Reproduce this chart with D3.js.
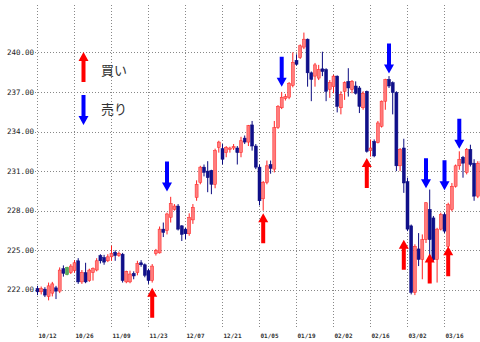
<!DOCTYPE html>
<html>
<head>
<meta charset="utf-8">
<script src="https://cdn.jsdelivr.net/npm/d3@7"></script>
<style>
  body { margin: 0; background: #fff; }
  svg { display: block; }
</style>
</head>
<body>
<div id="container"></div>
<script>
/* CONSTANTS AND GLOBALS */
const width = 480;
const height = 342;

/* DATA */
const dateLabels = ["10/12", "10/26", "11/09", "11/23", "12/07", "12/21", "01/05", "01/19", "02/02", "02/16", "03/02", "03/16"];
const yTicks = [222, 225, 228, 231, 234, 237, 240];

const opens = [
  222.1, 221.85, 222.05, 221.5, 221.75, 222.15, 221.9, 223.6, 223.15, 223.3,
  223.45, 224.2, 222.6, 223.3, 222.7, 223.3, 223.5, 224.6, 224.45, 224.2,
  224.5, 224.85, 224.6, 224.7, 222.6, 222.6, 223.25, 223.3, 224.05, 223.9,
  223.45, 222.7, 224.75, 224.8, 226.6, 226.5, 227.5, 228.1, 228.35, 226.85,
  226.6, 226.25, 227.3, 229.0, 230.15, 231.3, 231.0, 231.05, 230.0, 232.8,
  232.7, 232.4, 232.65, 232.75, 232.75, 232.4, 233.5, 233.2, 234.5, 232.9,
  231.3, 228.9, 230.15, 231.5, 231.15, 234.3, 235.8, 236.5, 236.6, 237.5,
  239.4, 239.6, 240.4, 241.0, 238.45, 238.2, 238.05, 238.75, 238.7, 237.2,
  237.4, 238.2, 235.8, 237.05, 237.8, 237.2, 237.45, 237.3, 235.8, 237.05,
  232.55, 233.25, 233.15, 234.4, 236.3, 237.95, 237.7, 236.95, 231.4, 232.75,
  230.2, 226.85, 221.8, 225.1, 224.3, 225.8, 228.1, 227.45, 224.3, 226.6,
  227.7, 225.3, 228.1, 229.85, 231.4, 232.05, 230.9, 232.65, 231.6, 229.1,
  231.6
];
const highs = [
  222.3, 222.25, 222.2, 222.55, 222.6, 222.3, 223.7, 223.85, 223.75, 223.95,
  224.25, 224.4, 223.5, 224.05, 223.6, 223.7, 224.4, 224.7, 224.65, 224.7,
  225.35, 225.0, 224.9, 224.8, 223.45, 223.45, 223.4, 224.2, 224.25, 224.0,
  223.6, 223.95, 225.1, 226.8, 227.1, 227.85, 229.05, 228.5, 228.5, 226.9,
  226.7, 227.8, 228.5, 230.3, 231.4, 231.5, 231.75, 231.1, 232.7, 233.3,
  233.05, 232.9, 232.85, 233.05, 232.9, 233.6, 233.7, 234.5, 234.8, 233.05,
  231.5, 230.25, 231.8, 231.8, 234.8, 236.0, 237.0, 236.85, 237.75, 240.0,
  239.85, 240.6, 241.5, 241.05, 238.55, 239.2, 239.05, 240.05, 238.8, 237.9,
  238.3, 238.25, 237.05, 237.8, 238.8, 237.9, 237.8, 237.45, 237.05, 237.1,
  233.4, 233.4, 234.8, 236.35, 238.0, 238.2, 237.8, 237.05, 232.75, 233.45,
  230.5, 226.95, 225.45, 226.3, 226.2, 228.65, 229.6, 227.6, 226.7, 227.85,
  227.85, 228.6, 230.1, 231.5, 232.5, 232.15, 232.75, 233.0, 231.9, 231.75,
  231.8
];
const lows = [
  221.6, 221.65, 221.45, 221.2, 221.5, 221.3, 221.75, 223.0, 223.1, 223.2,
  223.3, 222.45, 222.45, 222.5, 222.6, 222.7, 223.4, 224.0, 223.9, 224.1,
  224.2, 224.2, 224.5, 222.55, 222.5, 222.5, 222.8, 223.1, 223.75, 222.95,
  222.45, 222.55, 224.6, 224.75, 226.0, 226.2, 227.1, 228.0, 226.5, 225.7,
  225.85, 226.1, 227.0, 228.75, 230.0, 230.6, 229.4, 229.25, 229.7, 232.4,
  231.5, 232.05, 232.4, 232.6, 231.5, 232.05, 233.05, 232.9, 232.55, 231.15,
  228.4, 228.0, 230.0, 230.8, 230.9, 234.2, 235.7, 236.35, 236.45, 237.35,
  239.0, 239.5, 240.25, 237.4, 236.3, 237.4, 237.9, 238.2, 236.3, 236.55,
  236.9, 235.45, 235.3, 236.4, 236.65, 236.9, 236.8, 235.4, 235.65, 232.4,
  232.1, 232.05, 233.1, 234.3, 235.65, 237.3, 235.3, 231.0, 231.0, 229.35,
  226.45, 221.65, 221.6, 223.8, 222.8, 225.55, 224.3, 224.2, 222.55, 226.5,
  226.3, 225.2, 227.95, 229.75, 231.1, 230.5, 230.75, 231.35, 228.75, 228.95,
  231.5
];
const closes = [
  221.85, 222.1, 221.6, 222.3, 222.45, 221.9, 223.5, 223.25, 223.7, 223.8,
  224.05, 222.6, 223.3, 222.6, 223.5, 223.6, 224.2, 224.2, 224.1, 224.5,
  224.75, 224.6, 224.75, 222.7, 223.4, 223.2, 223.05, 224.0, 223.9, 223.1,
  222.7, 223.8, 225.0, 226.6, 226.35, 227.75, 228.55, 228.35, 226.6, 226.2,
  226.25, 227.5, 228.25, 230.0, 231.3, 230.9, 230.5, 230.0, 232.55, 233.2,
  231.9, 232.8, 232.75, 232.85, 232.4, 233.3, 233.2, 234.45, 232.9, 231.3,
  228.75, 230.15, 231.4, 231.2, 234.3, 235.9, 236.6, 236.65, 237.65, 239.25,
  239.1, 240.5, 241.0, 238.45, 237.95, 239.05, 238.7, 238.55, 237.05, 237.7,
  238.2, 235.9, 236.8, 237.7, 237.3, 237.8, 236.9, 235.9, 236.9, 232.5,
  232.75, 232.15, 234.65, 236.3, 237.95, 237.45, 236.95, 231.4, 232.65, 230.1,
  226.6, 221.8, 225.3, 224.3, 225.8, 228.6, 225.8, 224.3, 226.6, 227.7,
  226.45, 228.45, 229.85, 231.4, 231.9, 231.6, 232.65, 231.5, 229.1, 231.6,
  231.75
];
// candles drawn green (unchanged)
const flatIdx = [8];

// buy / sell signals: candle index and price at the arrow tip
const buyIdx = [31, 61, 89, 99, 106, 111];
const buyPrice = [222.15, 227.8, 232.0, 225.8, 224.75, 225.3];
const sellIdx = [35, 66, 95, 105, 110, 114];
const sellPrice = [229.45, 237.4, 238.4, 229.7, 229.55, 232.7];

const legendItems = ["買い", "売り"];

const candles = opens.map((o, i) => ({
  i, open: o, high: highs[i], low: lows[i], close: closes[i]
}));

const svg = d3.select("#container")
  .append("svg")
  .attr("width", width)
  .attr("height", height)
  .style("font-family", "'DejaVu Sans Mono', monospace");

/**********/
/* SCALES */
/**********/
const xScale = d3.scaleLinear()
  .domain([0, 120])
  .range([37.5, 37.5 + 3.7 * 120]);

const yScale = d3.scaleLinear()
  .domain([219.5, 243.5])
  .range([322.8, 6.2]);

/********/
/* GRID */
/********/
const gridIdx = dateLabels.map((d, k) => k * 10);

svg.append("g")
  .attr("class", "x-grid")
  .selectAll("line")
  .data(gridIdx)
  .join("line")
  .attr("x1", d => Math.round(xScale(d)) - 0.5)
  .attr("x2", d => Math.round(xScale(d)) - 0.5)
  .attr("y1", 5)
  .attr("y2", 328)
  .attr("stroke", "#888")
  .attr("stroke-dasharray", "1,2");

svg.append("g")
  .attr("class", "y-grid")
  .selectAll("line")
  .data(yTicks)
  .join("line")
  .attr("x1", 35)
  .attr("x2", width)
  .attr("y1", d => Math.round(yScale(d)) + 0.5)
  .attr("y2", d => Math.round(yScale(d)) + 0.5)
  .attr("stroke", "#888")
  .attr("stroke-dasharray", "1,2");

// y labels
svg.append("g")
  .selectAll("text")
  .data(yTicks)
  .join("text")
  .attr("x", 34)
  .attr("y", d => yScale(d))
  .attr("dy", "0.35em")
  .attr("text-anchor", "end")
  .style("font-size", "7.5px")
  .style("fill", "#222")
  .text(d => d.toFixed(2));

// x labels
svg.append("g")
  .selectAll("text")
  .data(dateLabels)
  .join("text")
  .attr("x", (d, k) => xScale(k * 10) + 1)
  .attr("y", 338)
  .style("font-size", "6px")
  .style("font-weight", "bold")
  .style("fill", "#333")
  .text(d => d);

/***********/
/* CANDLES */
/***********/
const colorOf = d => flatIdx.includes(d.i) ? "#3a9a3a"
  : (d.close >= d.open ? "#ff2020" : "#0a0a80");
const fillOf = d => flatIdx.includes(d.i) ? "#5aaa5a"
  : (d.close >= d.open ? "#ff7c7c" : "#10108a");

const plot = svg.append("g").attr("class", "candles");

const cg = plot.selectAll("g.candle")
  .data(candles)
  .join("g")
  .attr("class", "candle");

cg.append("line")
  .attr("x1", d => xScale(d.i))
  .attr("x2", d => xScale(d.i))
  .attr("y1", d => yScale(d.high))
  .attr("y2", d => yScale(d.low))
  .attr("stroke", colorOf)
  .attr("stroke-width", 1);

cg.append("rect")
  .attr("x", d => xScale(d.i) - 1.5)
  .attr("width", 3)
  .attr("y", d => yScale(Math.max(d.open, d.close)))
  .attr("height", d => Math.max(1, yScale(Math.min(d.open, d.close)) - yScale(Math.max(d.open, d.close))))
  .attr("fill", fillOf)
  .attr("stroke", colorOf)
  .attr("stroke-width", 0.5);

/**********/
/* ARROWS */
/**********/
// arrow path pointing up with the tip at (0,0)
const upArrow = "M0,0 L5,9 L2,9 L2,30 L-2,30 L-2,9 L-5,9 Z";
const downArrow = "M0,0 L5,-9 L2,-9 L2,-30 L-2,-30 L-2,-9 L-5,-9 Z";

svg.append("g")
  .selectAll("path")
  .data(buyIdx)
  .join("path")
  .attr("d", upArrow)
  .attr("transform", (d, k) => `translate(${xScale(d)},${yScale(buyPrice[k])})`)
  .attr("fill", "#ff0000");

svg.append("g")
  .selectAll("path")
  .data(sellIdx)
  .join("path")
  .attr("d", downArrow)
  .attr("transform", (d, k) => `translate(${xScale(d)},${yScale(sellPrice[k])})`)
  .attr("fill", "#0000ff");

/**********/
/* LEGEND */
/**********/
svg.append("path")
  .attr("d", upArrow)
  .attr("transform", "translate(83.5,52)")
  .attr("fill", "#ff0000");

svg.append("path")
  .attr("d", downArrow)
  .attr("transform", "translate(83.5,125)")
  .attr("fill", "#0000ff");

svg.append("g")
  .selectAll("text")
  .data(legendItems)
  .join("text")
  .attr("x", 101)
  .attr("y", (d, k) => 70 + k * 39)
  .attr("dy", "0.35em")
  .style("font-family", "'Noto Sans CJK JP', sans-serif")
  .style("font-size", "13px")
  .style("fill", "#333")
  .text(d => d);
</script>
</body>
</html>
